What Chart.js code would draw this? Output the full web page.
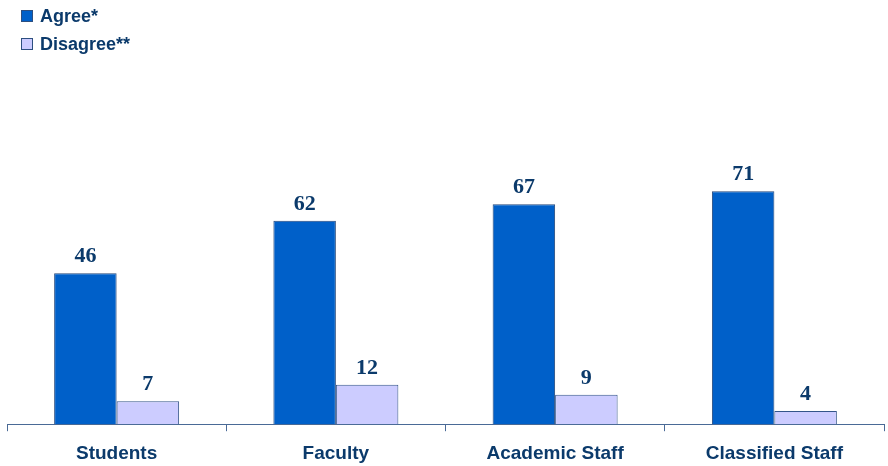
<!DOCTYPE html>
<html><head><meta charset="utf-8">
<script src="https://cdn.jsdelivr.net/npm/chart.js@4/dist/chart.umd.min.js"></script>
<style>
html,body{margin:0;padding:0;background:#fff;}
#wrap{position:relative;width:888px;height:466px;}
#legend{position:absolute;left:21px;top:2px;font:bold 18px "Liberation Sans",Arial,sans-serif;color:#0b3a6b;}
.li{display:flex;align-items:center;height:28px;}
.sw{width:10px;height:10px;border:1px solid #2d4f80;margin-right:7px;}
</style></head>
<body><div id="wrap"><canvas id="c" width="888" height="466"></canvas>
<div id="legend"></div></div>
<script>
const categories = ["Students", "Faculty", "Academic Staff", "Classified Staff"];
const agreeValues = [46, 62, 67, 71];
const disagreeValues = [7, 12, 9, 4];
const seriesNames = ["Agree*", "Disagree**"];
const seriesColors = ["#0060c9", "#ccccff"];

const leg = document.getElementById('legend');
seriesNames.forEach((n,i)=>{
  const d=document.createElement('div');d.className='li';
  d.innerHTML='<span class="sw" style="background:'+seriesColors[i]+'"></span><span>'+n+'</span>';
  leg.appendChild(d);
});

const labelPlugin = {
  id:'vals',
  afterDatasetsDraw(chart){
    const ctx=chart.ctx;
    ctx.save();
    ctx.font='bold 22px "Liberation Serif","Times New Roman",serif';
    ctx.fillStyle='#0b3a6b';
    ctx.textAlign='center';
    ctx.textBaseline='alphabetic';
    chart.data.datasets.forEach((ds,di)=>{
      chart.getDatasetMeta(di).data.forEach((el,i)=>{
        ctx.fillText(String(ds.data[i]), el.x, el.y-11);
      });
    });
    ctx.restore();
  }
};

new Chart(document.getElementById('c'),{
  type:'bar',
  data:{labels:categories,datasets:[
    {label:seriesNames[0],data:agreeValues,backgroundColor:seriesColors[0],borderColor:'#24477a',borderWidth:1,categoryPercentage:0.57,barPercentage:1.0},
    {label:seriesNames[1],data:disagreeValues,backgroundColor:seriesColors[1],borderColor:'#34558a',borderWidth:1,categoryPercentage:0.57,barPercentage:1.0}
  ]},
  options:{
    responsive:false,animation:false,
    layout:{padding:{left:7,right:4,top:96,bottom:-10}},
    plugins:{legend:{display:false},tooltip:{enabled:false}},
    scales:{
      y:{display:false,min:0,max:100},
      x:{
        grid:{offset:true,drawOnChartArea:false,color:'#4a6a96',tickLength:7,lineWidth:1},
        border:{display:true,color:'#4a6a96',width:1},
        ticks:{color:'#0b3a6b',font:{family:'"Liberation Sans",Arial,sans-serif',size:19,weight:'bold'},padding:11,maxRotation:0}
      }
    }
  },
  plugins:[labelPlugin]
});
</script></body></html>
